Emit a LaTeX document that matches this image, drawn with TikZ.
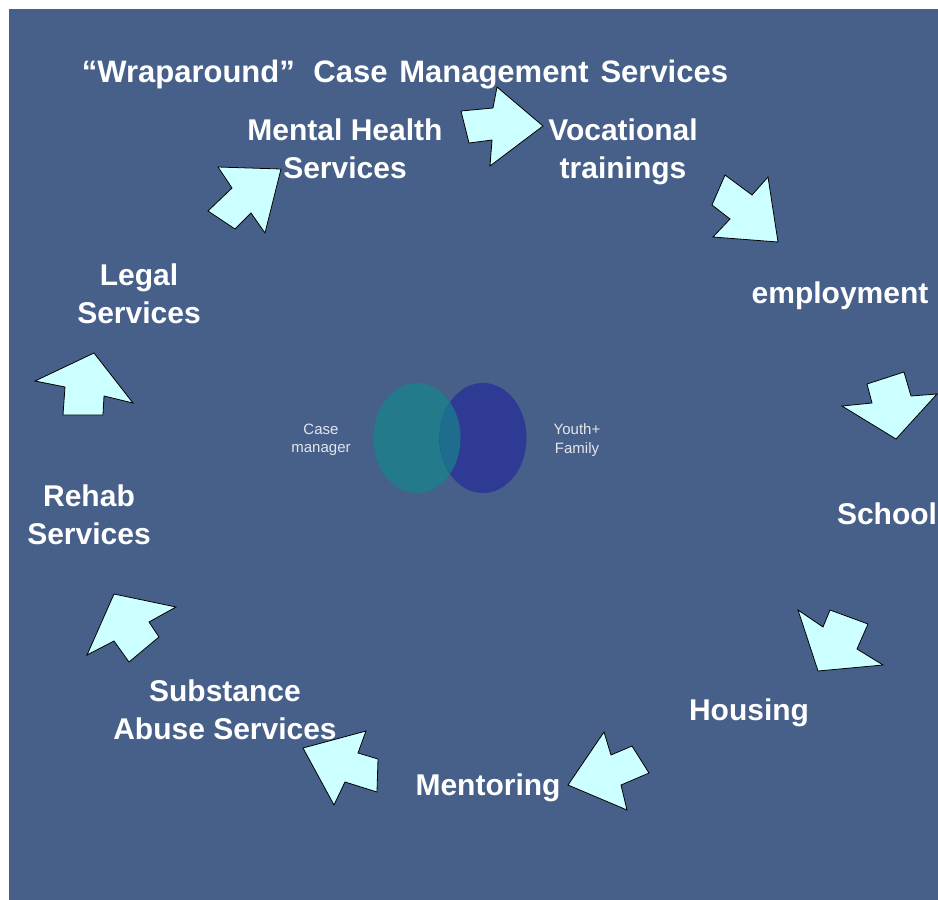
\documentclass[tikz,border=0pt]{standalone}
\usepackage{fontspec}
\setmainfont{Liberation Sans}
\usepackage{tikz}
\usetikzlibrary{positioning, calc}
\definecolor{slateback}{RGB}{70,96,138}
\definecolor{paleaqua}{RGB}{204,255,255}
\definecolor{tealcase}{RGB}{35,122,138}
\definecolor{bluefamily}{RGB}{47,58,148}
\definecolor{overlapblue}{RGB}{30,108,142}
\definecolor{softgray}{RGB}{228,230,235}

\begin{document}
\begin{tikzpicture}[x=1pt, y=-1pt,
	service/.style={align=center, text=white, font=\bfseries\fontsize{30}{38}\selectfont, inner sep=0pt},
	smalltag/.style={align=center, text=softgray, font=\fontsize{15}{18.5}\selectfont, inner sep=0pt},
	bigarrow/.style={fill=paleaqua, draw=black, line width=0.8pt, line join=miter}]
				\useasboundingbox (0,0) rectangle (938,900);
				\fill[slateback] (9,9) rectangle (938,900);
				
				\node[service, font=\bfseries\fontsize{31}{38}\selectfont] (title) at (405,75) {“Wraparound”\hspace{0.6em}Case\hspace{0.38em}Management\hspace{0.38em}Services};
				\node[service] (mental) at (345,149) {Mental Health\\Services};
				\node[service] (vocational) at (623,152) {Vocational\\trainings};
				\node[service] (employment) at (840,296) {employment};
				\node[service] (school) at (887,514) {School};
				\node[service] (housing) at (749,713) {Housing};
				\node[service] (mentoring) at (488,788) {Mentoring};
				\node[service] (substance) at (225,710) {Substance\\Abuse Services};
				\node[service] (rehab) at (89,515) {Rehab\\Services};
				\node[service] (legal) at (139,294) {Legal\\Services};
				
				%% the two circles in the middle
				\fill[tealcase] (417,438) ellipse (43.5 and 55);
				\fill[bluefamily] (483,438) ellipse (43.5 and 55);
				\begin{scope}
					\clip (417,438) ellipse (43.5 and 55);
					\fill[overlapblue] (483,438) ellipse (43.5 and 55);
				\end{scope}
				\node[smalltag] (casemanager) at (321,440) {Case\\manager};
				\node[smalltag] (youth) at (577,440) {Youth+\\Family};
				
				\draw[bigarrow] (218,167) -- (281,169) -- (265,233) -- (251,213) -- (235,229) -- (208,211) -- (232,188) -- cycle;
				\draw[bigarrow] (461,111) -- (493,108) -- (497,87) -- (543,126) -- (490,166) -- (492,140) -- (469,143) -- cycle;
				\draw[bigarrow] (725,175) -- (752,195) -- (768,177) -- (778,242) -- (713,237) -- (730,219) -- (712,205) -- cycle;
				\draw[bigarrow] (842,406) -- (872,403) -- (867,384) -- (904,372) -- (911,396) -- (937,394) -- (896,439) -- cycle;
				\draw[bigarrow] (798,610) -- (823,627) -- (830,610) -- (868,624) -- (857,649) -- (883,665) -- (818,671) -- cycle;
				\draw[bigarrow] (604,732) -- (611,755) -- (632,746) -- (649,773) -- (621,785) -- (627,810) -- (568,785) -- cycle;
				\draw[bigarrow] (366,731) -- (358,753) -- (378,759) -- (377,792) -- (345,782) -- (334,805) -- (303,748) -- cycle;
				\draw[bigarrow] (114,594) -- (176,607) -- (149,622) -- (159,637) -- (129,662) -- (114,641) -- (87,655) -- cycle;
				\draw[bigarrow] (94,353) -- (133,403) -- (104,396) -- (103,415) -- (63,415) -- (65,387) -- (35,381) -- cycle;
\end{tikzpicture}
\end{document}
